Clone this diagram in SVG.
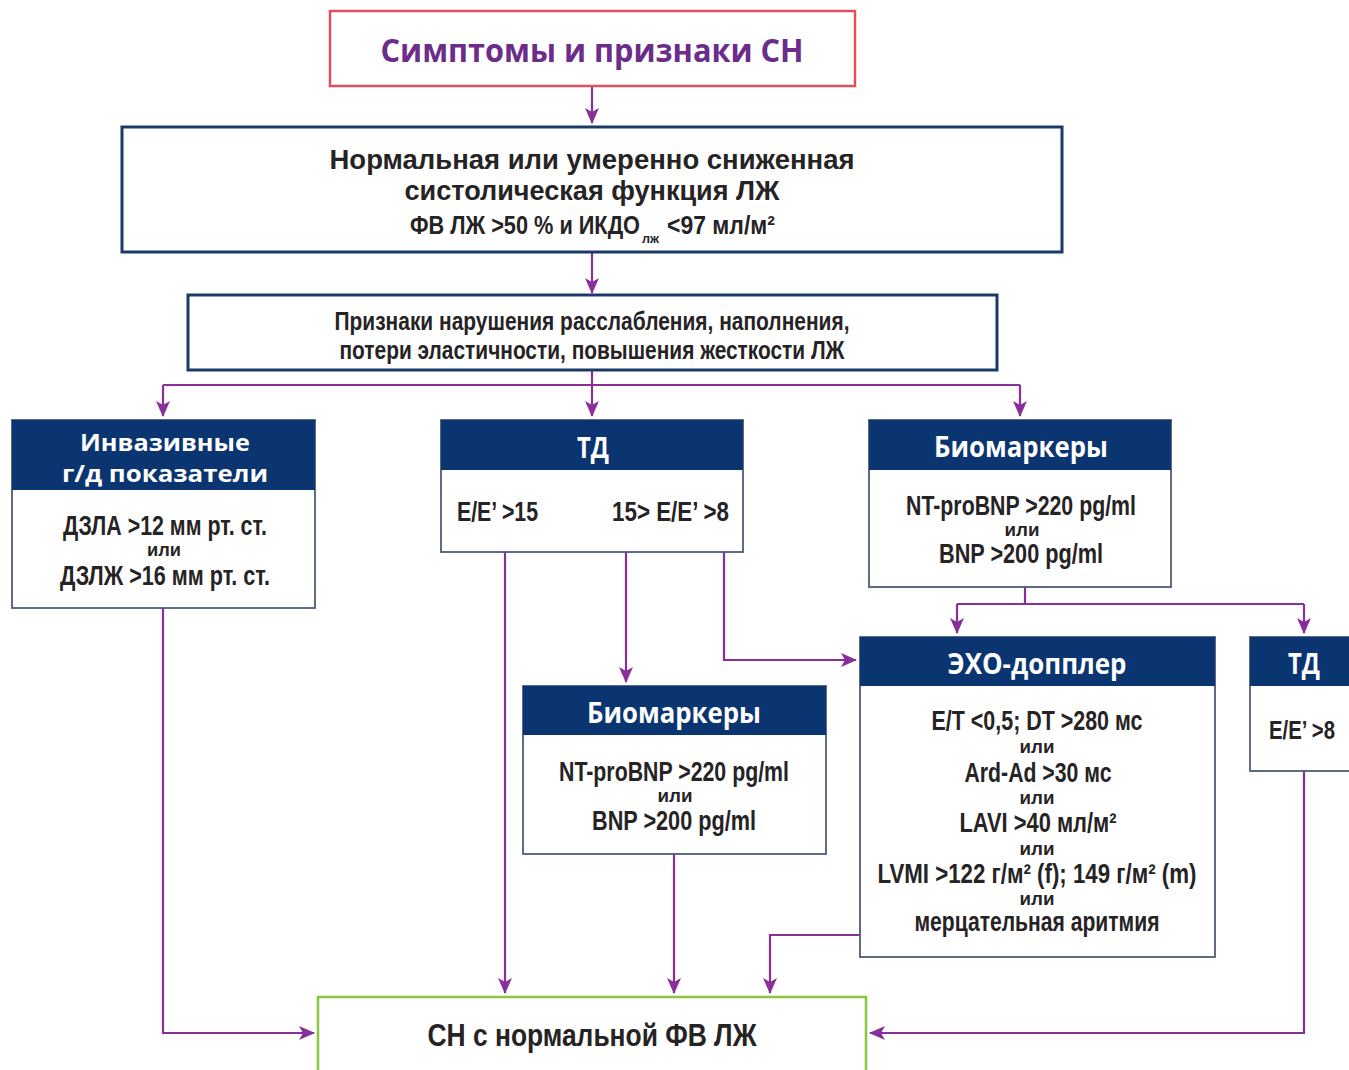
<svg xmlns="http://www.w3.org/2000/svg" width="1349" height="1070" viewBox="0 0 1349 1070">
<style>
.bg{fill:#ffffff}
.box{fill:#ffffff;stroke:#4d5c7a;stroke-width:1.8}
.mainbox{fill:#ffffff;stroke:#1b3a68;stroke-width:3}
.hdr{fill:#0b3570}
.t{font-family:"Liberation Sans Narrow","Liberation Sans",Arial,sans-serif;font-weight:bold;fill:#262324;text-anchor:middle}
.h{font-family:"Open Sans","Liberation Sans",sans-serif;font-weight:bold;fill:#ffffff;text-anchor:middle}
.or{font-family:"Liberation Sans Narrow","Liberation Sans",sans-serif;font-weight:bold;fill:#262324;text-anchor:middle;font-size:18px}
.c{fill:none;stroke:#8a2e9b;stroke-width:2.2}
</style>
<defs>
<marker id="ah" markerUnits="userSpaceOnUse" markerWidth="16" markerHeight="14" refX="15" refY="7" orient="auto">
<path d="M0,0 L16,7 L0,14 L4,7 Z" fill="#8a2e9b"/>
</marker>
</defs>
<rect class="bg" x="0" y="0" width="1349" height="1070"/>

<g id="connectors">
<path class="c" d="M592,86 V123" marker-end="url(#ah)"/>
<path class="c" d="M592,252 V293" marker-end="url(#ah)"/>
<path class="c" d="M592,370 V416" marker-end="url(#ah)"/>
<path class="c" d="M163,385 H1020"/>
<path class="c" d="M163,385 V416" marker-end="url(#ah)"/>
<path class="c" d="M1020,385 V416" marker-end="url(#ah)"/>
<path class="c" d="M1025,587 V604"/>
<path class="c" d="M957,604 H1304"/>
<path class="c" d="M957,604 V633" marker-end="url(#ah)"/>
<path class="c" d="M1304,604 V633" marker-end="url(#ah)"/>
<path class="c" d="M505,552 V993" marker-end="url(#ah)"/>
<path class="c" d="M626,552 V682" marker-end="url(#ah)"/>
<path class="c" d="M724,552 V660 H856" marker-end="url(#ah)"/>
<path class="c" d="M674,854 V993" marker-end="url(#ah)"/>
<path class="c" d="M860,935 H770 V993" marker-end="url(#ah)"/>
<path class="c" d="M163,608 V1033 H314" marker-end="url(#ah)"/>
<path class="c" d="M1304,771 V1033 H870" marker-end="url(#ah)"/>
</g>

<g id="n-symptoms">
<rect x="330" y="11" width="525" height="75" fill="#fff" stroke="#e0505e" stroke-width="2.5"/>
<text x="592" y="62" font-family="'Open Sans','Liberation Sans',sans-serif" font-weight="bold" font-size="33" fill="#6b2c8a" text-anchor="middle" textLength="423" lengthAdjust="spacingAndGlyphs">Симптомы и признаки СН</text>
</g>

<g id="n-systolic">
<rect class="mainbox" x="122" y="127" width="940" height="125"/>
<text class="t" x="592" y="169" font-size="27" textLength="525" lengthAdjust="spacingAndGlyphs">Нормальная или умеренно сниженная</text>
<text class="t" x="592" y="200" font-size="27" textLength="375" lengthAdjust="spacingAndGlyphs">систолическая функция ЛЖ</text>
<text class="t" x="410" y="234" font-size="25" style="text-anchor:start" textLength="230" lengthAdjust="spacingAndGlyphs">ФВ ЛЖ &gt;50 %  и  ИКДО</text>
<text class="t" x="642" y="243" font-size="12" style="text-anchor:start" textLength="17" lengthAdjust="spacingAndGlyphs">лж</text>
<text class="t" x="667" y="234" font-size="25" style="text-anchor:start" textLength="108" lengthAdjust="spacingAndGlyphs">&lt;97 мл/м²</text>
</g>

<g id="n-signs">
<rect class="mainbox" x="188" y="295" width="809" height="75"/>
<text class="t" x="592" y="330" font-size="26" textLength="515" lengthAdjust="spacingAndGlyphs">Признаки нарушения расслабления, наполнения,</text>
<text class="t" x="592" y="359" font-size="26" textLength="505" lengthAdjust="spacingAndGlyphs">потери эластичности, повышения жесткости ЛЖ</text>
</g>

<g id="n-invasive">
<rect class="box" x="12" y="420" width="303" height="188"/>
<rect class="hdr" x="12" y="420" width="303" height="70"/>
<text class="h" x="165" y="451" font-size="24" textLength="170" lengthAdjust="spacingAndGlyphs">Инвазивные</text>
<text class="h" x="165" y="482" font-size="24" textLength="206" lengthAdjust="spacingAndGlyphs">г/д  показатели</text>
<text class="t" x="165" y="535" font-size="27" textLength="204" lengthAdjust="spacingAndGlyphs">ДЗЛА &gt;12 мм рт. ст.</text>
<text class="or" x="164" y="556" textLength="34" lengthAdjust="spacingAndGlyphs">или</text>
<text class="t" x="165" y="585" font-size="27" textLength="210" lengthAdjust="spacingAndGlyphs">ДЗЛЖ &gt;16 мм рт. ст.</text>
</g>

<g id="n-td1">
<rect class="box" x="441" y="420" width="302" height="132"/>
<rect class="hdr" x="441" y="420" width="302" height="50"/>
<text class="h" x="593" y="458" font-size="29" textLength="32" lengthAdjust="spacingAndGlyphs">ТД</text>
<text class="t" x="457" y="521" font-size="27" style="text-anchor:start" textLength="81" lengthAdjust="spacingAndGlyphs">E/E’ &gt;15</text>
<text class="t" x="612" y="521" font-size="27" style="text-anchor:start" textLength="117" lengthAdjust="spacingAndGlyphs">15&gt; E/E’ &gt;8</text>
</g>

<g id="n-bio1">
<rect class="box" x="869" y="420" width="302" height="167"/>
<rect class="hdr" x="869" y="420" width="302" height="50"/>
<text class="h" x="1021" y="457" font-size="28" textLength="174" lengthAdjust="spacingAndGlyphs">Биомаркеры</text>
<text class="t" x="1021" y="515" font-size="27" textLength="230" lengthAdjust="spacingAndGlyphs">NT-proBNP &gt;220 pg/ml</text>
<text class="or" x="1022" y="536" textLength="35" lengthAdjust="spacingAndGlyphs">или</text>
<text class="t" x="1021" y="563" font-size="27" textLength="164" lengthAdjust="spacingAndGlyphs">BNP &gt;200 pg/ml</text>
</g>

<g id="n-bio2">
<rect class="box" x="523" y="686" width="303" height="168"/>
<rect class="hdr" x="523" y="686" width="303" height="49"/>
<text class="h" x="674" y="723" font-size="28" textLength="174" lengthAdjust="spacingAndGlyphs">Биомаркеры</text>
<text class="t" x="674" y="781" font-size="27" textLength="230" lengthAdjust="spacingAndGlyphs">NT-proBNP &gt;220 pg/ml</text>
<text class="or" x="675" y="802" textLength="35" lengthAdjust="spacingAndGlyphs">или</text>
<text class="t" x="674" y="830" font-size="27" textLength="164" lengthAdjust="spacingAndGlyphs">BNP &gt;200 pg/ml</text>
</g>

<g id="n-echo">
<rect class="box" x="860" y="637" width="355" height="320"/>
<rect class="hdr" x="860" y="637" width="355" height="49"/>
<text class="h" x="1037" y="674" font-size="28" textLength="179" lengthAdjust="spacingAndGlyphs">ЭХО-допплер</text>
<text class="t" x="1037" y="730" font-size="27" textLength="211" lengthAdjust="spacingAndGlyphs">E/T &lt;0,5; DT &gt;280 мс</text>
<text class="or" x="1037" y="753" textLength="35" lengthAdjust="spacingAndGlyphs">или</text>
<text class="t" x="1038" y="782" font-size="27" textLength="147" lengthAdjust="spacingAndGlyphs">Ard-Ad &gt;30 мс</text>
<text class="or" x="1037" y="804" textLength="35" lengthAdjust="spacingAndGlyphs">или</text>
<text class="t" x="1038" y="832" font-size="27" textLength="157" lengthAdjust="spacingAndGlyphs">LAVI &gt;40 мл/м²</text>
<text class="or" x="1037" y="855" textLength="35" lengthAdjust="spacingAndGlyphs">или</text>
<text class="t" x="1037" y="883" font-size="27" textLength="319" lengthAdjust="spacingAndGlyphs">LVMI &gt;122 г/м² (f); 149 г/м² (m)</text>
<text class="or" x="1037" y="905" textLength="35" lengthAdjust="spacingAndGlyphs">или</text>
<text class="t" x="1037" y="931" font-size="27" textLength="245" lengthAdjust="spacingAndGlyphs">мерцательная аритмия</text>
</g>

<g id="n-td2">
<rect class="box" x="1250" y="637" width="110" height="134"/>
<rect class="hdr" x="1250" y="637" width="110" height="49"/>
<text class="h" x="1304" y="674" font-size="29" textLength="32" lengthAdjust="spacingAndGlyphs">ТД</text>
<text class="t" x="1302" y="739" font-size="26" textLength="66" lengthAdjust="spacingAndGlyphs">E/E’ &gt;8</text>
</g>

<g id="n-result">
<rect x="318" y="997" width="548" height="80" fill="#fff" stroke="#8cc63f" stroke-width="2.5"/>
<text class="t" x="592" y="1046" font-size="31" textLength="329" lengthAdjust="spacingAndGlyphs">СН с нормальной ФВ ЛЖ</text>
</g>
</svg>
